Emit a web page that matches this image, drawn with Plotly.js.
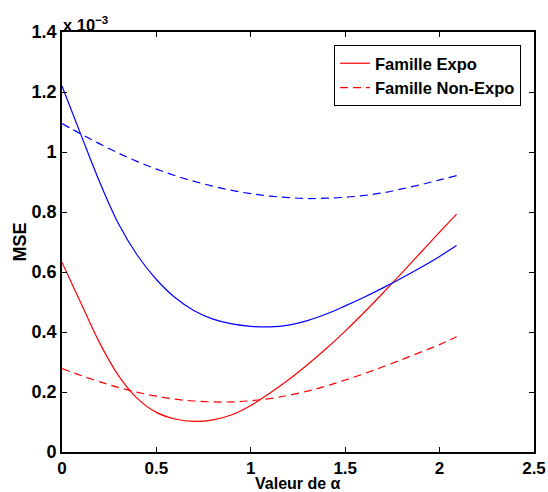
<!DOCTYPE html>
<html>
<head>
<meta charset="utf-8">
<script src="https://cdn.plot.ly/plotly-3.0.1.min.js"></script>
<style>
html,body{margin:0;padding:0;background:#fff;}
#chart{width:548px;height:492px;}
</style>
</head>
<body>
<div id="chart"></div>
<script>
// alpha values
const alpha = [0, 0.1, 0.2, 0.3, 0.4, 0.5, 0.6, 0.7, 0.8, 0.9, 1.0, 1.1, 1.2, 1.3, 1.4, 1.5, 1.6, 1.7, 1.8, 1.9, 2.0, 2.09];
// MSE values (x 10^-3)
const expoRed = [0.632, 0.497, 0.363, 0.254, 0.178, 0.132, 0.110, 0.102, 0.107, 0.124, 0.155, 0.196, 0.241, 0.291, 0.345, 0.403, 0.465, 0.530, 0.597, 0.665, 0.733, 0.793];
const nonExpoRed = [0.278, 0.255, 0.234, 0.215, 0.199, 0.186, 0.176, 0.170, 0.167, 0.167, 0.171, 0.178, 0.189, 0.203, 0.220, 0.240, 0.261, 0.284, 0.308, 0.333, 0.358, 0.384];
const expoBlue = [1.22, 1.058, 0.899, 0.760, 0.655, 0.575, 0.514, 0.471, 0.443, 0.427, 0.419, 0.417, 0.423, 0.438, 0.460, 0.487, 0.516, 0.547, 0.580, 0.615, 0.652, 0.688];
const nonExpoBlue = [1.095, 1.060, 1.027, 0.996, 0.968, 0.943, 0.921, 0.902, 0.886, 0.872, 0.861, 0.853, 0.848, 0.845, 0.846, 0.849, 0.855, 0.864, 0.877, 0.891, 0.907, 0.921];

const legendNames = ['Famille Expo', 'Famille Non-Expo'];
const xTickVals = [0, 0.5, 1, 1.5, 2, 2.5];
const yTickVals = [0, 0.2, 0.4, 0.6, 0.8, 1, 1.2, 1.4];
const xTitle = 'Valeur de α';
const yTitle = 'MSE';

const font = 'Liberation Sans, Arial, Helvetica, sans-serif';
const dashPat = '8px,5px';

const traces = [
  {x: alpha, y: expoRed, name: legendNames[0], mode: 'lines', line: {color: '#ff0000', width: 1.2, shape: 'spline'}},
  {x: alpha, y: nonExpoRed, name: legendNames[1], mode: 'lines', line: {color: '#ff0000', width: 1.2, dash: dashPat, shape: 'spline'}},
  {x: alpha, y: expoBlue, showlegend: false, mode: 'lines', line: {color: '#0000ff', width: 1.2, shape: 'spline'}},
  {x: alpha, y: nonExpoBlue, showlegend: false, mode: 'lines', line: {color: '#0000ff', width: 1.2, dash: dashPat, shape: 'spline'}}
];

const axisCommon = {
  showgrid: false, zeroline: false, showline: true, linecolor: '#000', linewidth: 1.8,
  mirror: 'ticks', ticks: 'inside', ticklen: 5, tickwidth: 1, tickcolor: '#000',
  tickfont: {family: font, size: 18, color: '#000', weight: 'bold'}
};

const layout = {
  width: 548, height: 492,
  margin: {l: 62, r: 14, t: 32, b: 40},
  paper_bgcolor: '#fff', plot_bgcolor: '#fff',
  font: {family: font, color: '#000'},
  xaxis: Object.assign({}, axisCommon, {
    range: [0, 2.5], tickvals: xTickVals, ticktext: xTickVals.map(String),
    tickfont: {family: font, size: 17, color: '#000', weight: 'bold'}
  }),
  yaxis: Object.assign({}, axisCommon, {
    range: [0, 1.4], tickvals: yTickVals, ticktext: yTickVals.map(String),
    title: {text: yTitle, font: {family: font, size: 18, color: '#000', weight: 'bold'}, standoff: 0}
  }),
  legend: {
    x: 0.9725, y: 0.969, xanchor: 'right', yanchor: 'top',
    bgcolor: '#fff', bordercolor: '#000', borderwidth: 1,
    font: {family: font, size: 16.5, color: '#000', weight: 'bold'},
    tracegroupgap: 0
  },
  annotations: [
    {
      xref: 'paper', yref: 'paper', x: 0, y: 1, xanchor: 'left', yanchor: 'bottom', xshift: -1, yshift: -4,
      text: 'x 10<sup>−3</sup>', showarrow: false,
      font: {family: font, size: 16.5, color: '#000', weight: 'bold'}
    },
    {
      xref: 'paper', yref: 'paper', x: 0.5, y: 0, xanchor: 'center', yanchor: 'middle', yshift: -31,
      text: xTitle, showarrow: false,
      font: {family: font, size: 16, color: '#000', weight: 'bold'}
    }
  ],
  showlegend: true
};

Plotly.newPlot('chart', traces, layout, {displayModeBar: false, staticPlot: true});
</script>
</body>
</html>
